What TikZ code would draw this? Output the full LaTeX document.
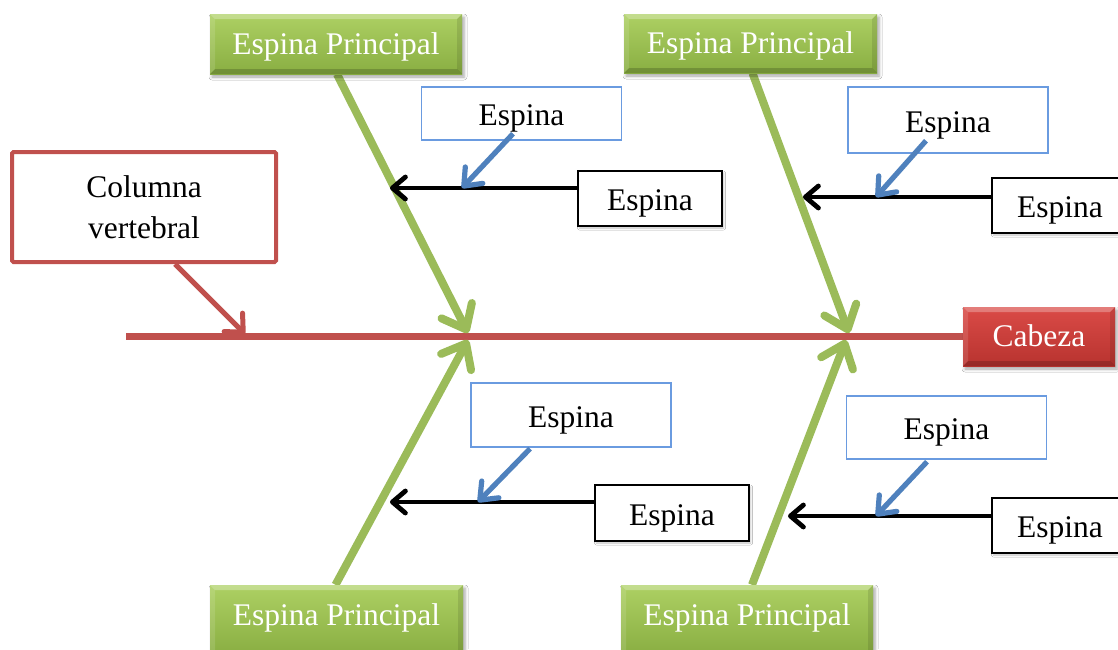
\documentclass[tikz,border=0pt]{standalone}
\usepackage{fontspec}
\setmainfont{Liberation Serif}
\usetikzlibrary{arrows.meta,shadows.blur,calc}

\definecolor{boneGreen}{HTML}{9BBB59}
\definecolor{greenTop}{HTML}{ADD063}
\definecolor{greenBot}{HTML}{89AE42}
\definecolor{spineRed}{HTML}{C0504D}
\definecolor{redTop}{HTML}{DA4B47}
\definecolor{redBot}{HTML}{B8332F}
\definecolor{ribBlue}{HTML}{4F81BD}
\definecolor{ribBlueLine}{HTML}{6A9BE0}

\pgfdeclarelayer{back}
\pgfsetlayers{back,main}

\tikzset{
  % raised, bevelled edges of the filled boxes
  bevel/.style={path picture={
    \def\bb{path picture bounding box}
    \fill[white,opacity=.28] (\bb.north west) -- (\bb.north east)
      -- ([shift={(-5pt,-5pt)}]\bb.north east) -- ([shift={(5pt,-5pt)}]\bb.north west) -- cycle;
    \fill[white,opacity=.12] (\bb.north west) -- (\bb.south west)
      -- ([shift={(5pt,5pt)}]\bb.south west) -- ([shift={(5pt,-5pt)}]\bb.north west) -- cycle;
    \fill[black,opacity=.18] (\bb.south west) -- (\bb.south east)
      -- ([shift={(-5pt,5pt)}]\bb.south east) -- ([shift={(5pt,5pt)}]\bb.south west) -- cycle;
    \fill[black,opacity=.10] (\bb.north east) -- (\bb.south east)
      -- ([shift={(-5pt,5pt)}]\bb.south east) -- ([shift={(-5pt,-5pt)}]\bb.north east) -- cycle;
  }},
  oneline/.style={text height=20pt,text depth=0pt},
  lowline/.style={text height=24pt,text depth=0pt},
  softshadow/.style={blur shadow={shadow xshift=2pt,shadow yshift=-3pt,
      shadow blur radius=3pt,shadow opacity=35}},
  mainbone/.style={oneline,minimum width=252pt,minimum height=60pt,text=white,
      top color=greenTop,bottom color=greenBot,bevel,softshadow},
  headbox/.style={oneline,minimum width=152pt,minimum height=59pt,text=white,
      top color=redTop,bottom color=redBot,bevel,softshadow},
  spinebox/.style={draw=spineRed,line width=4pt,rounded corners=1.5pt,fill=white,
      minimum width=264pt,minimum height=110pt},
  ribbox/.style={lowline,draw=ribBlueLine,line width=1.4pt,fill=white,minimum width=200pt},
  subbox/.style={lowline,draw=black,line width=1.5pt,fill=white,
      blur shadow={shadow xshift=1.5pt,shadow yshift=-2pt,shadow blur radius=2pt,shadow opacity=25}},
  spineline/.style={draw=spineRed,line width=7pt},
  mainarrow/.style={draw=boneGreen,line width=8pt,
      -{Straight Barb[length=21pt,width=34pt,round]}},
  colarrow/.style={draw=spineRed,line width=5pt,
      -{Straight Barb[length=14pt,width=26pt,round]}},
  subarrow/.style={draw=black,line width=4.8pt,
      -{Straight Barb[length=13pt,width=22pt,round]}},
  ribarrow/.style={draw=ribBlue,line width=5.2pt,
      -{Straight Barb[length=15pt,width=24pt,round]}},
}

\begin{document}
\begin{tikzpicture}[x=1pt,y=-1pt,
  every node/.style={font=\fontsize{31.5}{41}\selectfont,inner sep=0pt,align=center}]
\clip (0,0) rectangle (1118,649);

% main bones and head
\node[mainbone] (gTL) at (336,44) {Espina Principal};
\node[mainbone,minimum width=253pt,minimum height=59pt] (gTR) at (750.5,43.5) {Espina Principal};
\node[mainbone,minimum width=253pt,minimum height=70pt,
      label={[oneline,text=white,yshift=5pt]center:Espina Principal}] (gBL) at (336.5,620) {};
\node[mainbone,minimum width=252pt,minimum height=70pt,
      label={[oneline,text=white,yshift=5pt]center:Espina Principal}] (gBR) at (747,620) {};
\node[headbox] (head) at (1039,336.5) {Cabeza};
\node[spinebox] (col) at (144,207) {Columna\\vertebral};

% ribs: blue labels and black boxes
\node[ribbox,minimum height=53pt] (blTL) at (521.5,113.5) {Espina};
\node[ribbox,minimum height=66pt] (blTR) at (948,120) {Espina};
\node[ribbox,minimum height=64pt] (blBL) at (571,415) {Espina};
\node[ribbox,minimum height=63pt] (blBR) at (946.5,427.5) {Espina};

\node[subbox,minimum width=144pt,minimum height=55pt] (bkTL) at (650,198.5) {Espina};
\node[subbox,minimum width=136pt,minimum height=55pt] (bkTR) at (1060,205.5) {Espina};
\node[subbox,minimum width=154pt,minimum height=56pt] (bkBL) at (672,513) {Espina};
\node[subbox,minimum width=136pt,minimum height=55pt] (bkBR) at (1060,525.5) {Espina};

% junctions on the spine and ends of the small bones
\coordinate (j1) at (468,333);
\coordinate (j2) at (849,333);
\coordinate (j3) at (468,340);
\coordinate (j4) at (846,340);
\coordinate (tTL) at (390,188);
\coordinate (tTR) at (803,197);
\coordinate (tBL) at (390,502);
\coordinate (tBR) at (788,516);
\coordinate (mTL) at (462,188);
\coordinate (mTR) at (876,197);
\coordinate (mBL) at (478,502);
\coordinate (mBR) at (876,516);
\coordinate (sp) at (126,336.5);
\coordinate (cp) at (245,334);

\begin{pgfonlayer}{back}
  \fill[white] (0,0) rectangle (1118,649);
  \draw[spineline] (sp) -- (head.west);
  \draw[mainarrow] ([xshift=1pt]gTL.south) -- (j1);
  \draw[mainarrow] ([xshift=2pt]gTR.south) -- (j2);
  \draw[mainarrow] ([xshift=-1pt]gBL.north) -- (j3);
  \draw[mainarrow] ([xshift=5pt]gBR.north) -- (j4);
  \draw[colarrow] ([xshift=31pt]col.south) -- (cp);
\end{pgfonlayer}

\draw[subarrow] (bkTL.west |- tTL) -- (tTL);
\draw[subarrow] (bkTR.west |- tTR) -- (tTR);
\draw[subarrow] (bkBL.west |- tBL) -- (tBL);
\draw[subarrow] (bkBR.west |- tBR) -- (tBR);

\draw[ribarrow] ([shift={(-8.5pt,7pt)}]blTL.south) -- (mTL);
\draw[ribarrow] ([shift={(-22pt,13pt)}]blTR.south) -- (mTR);
\draw[ribarrow] ([shift={(-41pt,-1pt)}]blBL.south) -- (mBL);
\draw[ribarrow] ([shift={(-19.5pt,-2pt)}]blBR.south) -- (mBR);
\end{tikzpicture}
\end{document}
